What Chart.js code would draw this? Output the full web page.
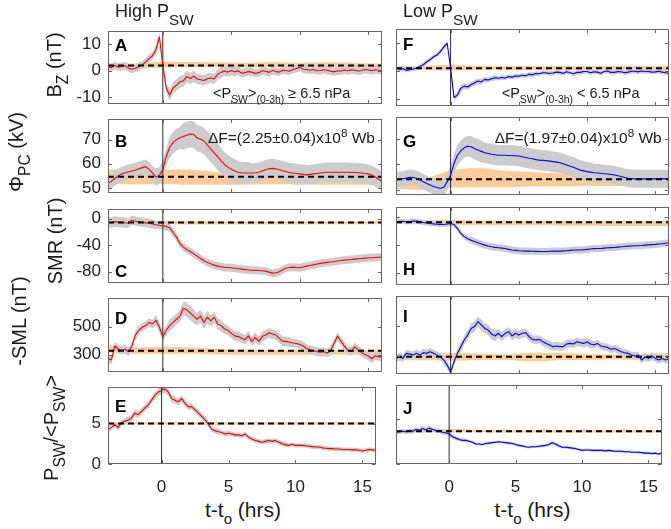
<!DOCTYPE html>
<html><head><meta charset="utf-8">
<script src="https://cdn.jsdelivr.net/npm/chart.js@4.4.1/dist/chart.umd.min.js"></script>
<style>
html,body{margin:0;padding:0;background:#fff;overflow:hidden}
#wrap{position:relative;width:671px;height:529px;background:#fff;font-family:"Liberation Sans",Arial,Helvetica,sans-serif;color:#1a1a1a}
canvas{position:absolute}
.t{position:absolute;white-space:nowrap;z-index:5}
.sub{font-size:0.72em;position:relative;top:0.45em}
.sup{font-size:0.75em;position:relative;top:-0.55em}
.rot{transform:translate(-50%,-50%) rotate(-90deg);font-size:20px;line-height:20px}
.rot .sub{font-size:0.78em}
.lt{font-weight:bold;font-size:17px;line-height:17px;color:#000}
.an{font-size:14.5px;line-height:14px}
.df{font-size:15.5px;line-height:15px}
.xt{font-size:21px;line-height:21px;transform:translateX(-50%)}
.ti{font-size:18px;line-height:18px}
.ti .sub{font-size:0.85em;top:0.5em}
</style></head><body><div id="wrap">
<div class="t ti" style="left:115px;top:2px">High P<span class="sub">SW</span></div>
<div class="t ti" style="left:403px;top:2px">Low P<span class="sub">SW</span></div>
<div class="t rot" style="left:54.5px;top:65px">B<span class="sub">Z</span> (nT)</div>
<div class="t rot" style="left:17px;top:152px">Φ<span class="sub">PC</span> (kV)</div>
<div class="t rot" style="left:54.5px;top:241px">SMR (nT)</div>
<div class="t rot" style="left:19px;top:321px">-SML (nT)</div>
<div class="t rot" style="left:52px;top:428px">P<span class="sub">SW</span>/&lt;P<span class="sub">SW</span>&gt;</div>
<div class="t lt" style="left:115px;top:37px">A</div>
<div class="t lt" style="left:115px;top:133px">B</div>
<div class="t lt" style="left:115px;top:263px">C</div>
<div class="t lt" style="left:115px;top:309.5px">D</div>
<div class="t lt" style="left:115px;top:398px">E</div>
<div class="t lt" style="left:403px;top:36px">F</div>
<div class="t lt" style="left:403px;top:133px">G</div>
<div class="t lt" style="left:403px;top:261px">H</div>
<div class="t lt" style="left:403px;top:308px">I</div>
<div class="t lt" style="left:403px;top:399.5px">J</div>
<div class="t an" style="left:213px;top:86px">&lt;P<span class="sub">SW</span>&gt;<span class="sub">(0-3h)</span> ≥ 6.5 nPa</div>
<div class="t an" style="left:501.7px;top:86px">&lt;P<span class="sub">SW</span>&gt;<span class="sub">(0-3h)</span> &lt; 6.5 nPa</div>
<div class="t df" style="right:296px;top:130px">ΔF=(2.25±0.04)x10<span class="sup">8</span> Wb</div>
<div class="t df" style="right:9.3px;top:130px">ΔF=(1.97±0.04)x10<span class="sup">8</span> Wb</div>
<div class="t xt" style="left:243px;top:499px">t-t<span class="sub">o</span> (hrs)</div>
<div class="t xt" style="left:532.5px;top:499px">t-t<span class="sub">o</span> (hrs)</div>
</div>
<script>
// ---------------- DATA ----------------
// time grid: -4 h to 16 h, every 0.25 h (81 samples)
const tStart = -4, tStep = 0.25, nSamples = 81;
const xTicks = [0, 5, 10, 15];
const baseX = [-4, -2, 0, 2, 4, 6, 8, 10, 12, 14, 16];   // quiet-time baseline samples

// A: Bz, high Psw
const bzHigh = [1.6,1.2,2.0,1.4, 1.6,1.9,1.0,0.6, 1.0,1.6,2.2,3.4, 4.6,5.7,8.0,12.8,
  2.2,-6.5,-9.2,-6.5, -5.4,-4.2,-3.8,-2.1, -2.9,-2.0,-3.1,-3.4, -3.7,-3.0,-2.7,-3.1,
  -1.3,-0.6,-0.1,-0.5, 0.1,-0.4,0.0,-0.9, -0.7,-0.3,-0.5,-1.0, -0.7,0.0,-0.2,-0.6,
  0.1,-0.3,-0.5,0.2, 0.1,-0.2,0.5,0.9, 1.3,0.6,0.5,0.2, 0.5,0.0,0.1,0.4,
  0.2,-0.2,-0.4,0.0, -0.1,0.3,0.0,0.4, 0.2,-0.1,0.1,0.5, 0.3,0.0,0.4,0.2, 0.1];
// F: Bz, low Psw
const bzLow = [1.0,0.6,0.8,0.3, 0.5,0.7,1.0,1.6, 2.2,3.3,4.0,5.1, 5.7,6.9,8.6,9.9,
  1.0,-9.5,-8.6,-6.2, -5.4,-5.7,-4.8,-4.3, -3.6,-3.9,-3.0,-3.2, -2.8,-2.4,-2.6,-2.3,
  -2.5,-2.0,-2.2,-1.8, -1.9,-1.5,-1.7,-1.2, -1.3,-0.9,-1.0,-0.6, -0.6,-0.9,-0.7,-0.4,
  -0.5,-0.8,-0.3,-0.6, -1.0,-0.5,-0.5,-0.2, -0.2,-0.6,-0.3,-0.4, -0.8,-0.2,0.0,-0.5,
  -0.5,-0.2,-0.3,-0.6, -0.4,-0.1,-0.1,-0.3, 0.0,-0.2,-0.2,-0.4, -0.3,-0.1,-0.4,-0.6, -0.9];
// B: Phi_PC, high Psw
const phiHigh = [51.9,52.8,53.9,55.0, 55.8,56.3,56.7,57.0, 57.4,57.9,58.4,58.8, 57.7,56.2,54.5,55.2,
  57.7,62.9,66.8,68.7, 70.0,70.7,71.3,71.8, 72.3,72.1,70.6,70.2, 69.4,67.8,66.1,64.5,
  62.9,61.2,59.7,58.6, 57.7,57.0,56.5,56.3, 56.2,56.2,56.2,56.3, 56.5,57.0,57.5,57.9,
  58.1,57.9,57.5,57.1, 56.7,56.4,56.2,56.0, 55.8,55.6,55.4,55.6, 55.8,56.0,56.2,56.4,
  56.5,56.5,56.5,56.5, 56.5,56.5,56.5,56.4, 56.4,56.3,56.2,56.0, 55.8,55.3,54.5,53.6, 52.8];
// G: Phi_PC, low Psw
const phiLow = [53.9,54.1,54.3,54.6, 54.9,54.8,54.5,53.9, 53.2,52.5,51.9,51.3, 50.9,50.6,51.0,53.2,
  55.8,60.3,63.5,65.2, 66.4,67.0,66.8,66.1, 65.5,65.0,64.5,64.2, 63.9,63.7,63.5,63.5,
  63.5,63.4,63.4,63.3, 63.2,62.9,62.6,62.3, 62.1,61.8,61.6,61.5, 61.4,61.2,61.0,60.8,
  60.6,60.2,59.7,59.2, 58.8,58.2,57.7,57.4, 57.1,56.9,56.7,56.6, 56.5,56.3,56.2,56.0,
  55.8,55.5,55.2,54.8, 54.5,54.4,54.3,54.3, 54.3,54.3,54.3,54.3, 54.3,54.3,54.3,54.3, 54.3];
// C: SMR, high Psw
const smrHigh = [-5.6,-6.0,-4.7,-5.2, -5.6,-6.4,-7.0,-2.5, -4.0,-4.6,-5.6,-6.5, -7.0,-8.2,-9.4,-10.2,
  -10.8,-11.8,-14.0,-21.0, -28.0,-37.6,-43.0,-46.5, -49.4,-53.0,-56.5,-60.0, -63.5,-66.0,-68.0,-70.0,
  -71.5,-72.5,-73.4,-73.6, -73.9,-74.6,-75.3,-76.0, -76.7,-77.2,-77.6,-77.8, -78.0,-78.5,-79.0,-80.5,
  -82.0,-81.5,-80.0,-77.0, -74.4,-73.5,-73.0,-73.5, -73.9,-72.7,-71.5,-70.5, -69.6,-68.4,-67.3,-66.6,
  -65.9,-65.2,-64.5,-63.8, -63.0,-62.5,-62.0,-61.5, -61.0,-60.5,-60.0,-59.5, -59.0,-58.8,-58.5,-58.2, -58.0];
// H: SMR, low Psw
const smrLow = [-7.0,-6.5,-6.2,-6.8, -7.0,-5.8,-6.0,-7.0, -8.0,-8.6,-9.4,-9.9, -10.4,-10.6,-10.8,-10.0,
  -9.4,-10.8,-16.5,-23.5, -28.0,-31.0,-33.0,-35.0, -36.7,-38.5,-40.0,-41.3, -42.4,-43.2,-43.8,-44.3,
  -44.7,-46.0,-47.0,-47.5, -48.0,-48.3,-48.5,-48.5, -48.6,-48.8,-49.0,-49.0, -49.0,-48.7,-48.5,-48.5,
  -48.5,-48.2,-48.0,-47.5, -47.0,-47.0,-47.0,-46.5, -46.0,-45.5,-45.0,-44.8, -44.7,-44.2,-43.8,-43.5,
  -43.3,-42.8,-42.4,-41.9, -41.4,-41.2,-41.0,-40.8, -40.5,-40.0,-39.7,-39.3, -39.0,-38.5,-38.0,-37.3, -36.7];
// D: -SML, high Psw
const smlHigh = [271,262,361,338, 331,338,320,361, 439,473,495,507, 529,518,545,495,
  428,473,507,529, 552,574,630,619, 597,574,552,574, 529,567,540,567,
  518,507,484,473, 451,433,428,417, 406,433,394,422, 394,428,439,455,
  446,439,417,394, 394,388,383,379, 372,361,343,334, 327,320,316,320,
  311,327,380,430, 395,360,330,322, 355,335,315,300, 290,270,292,285, 280];
// I: -SML, low Psw
const smlLow = [282,293,282,316, 311,304,316,304, 320,316,327,316, 304,293,271,237,
  190,260,316,361, 406,439,484,496, 529,507,484,473, 446,433,451,428,
  451,462,433,451, 439,451,455,428, 410,406,410,394, 383,372,361,366,
  361,361,379,383, 379,394,388,383, 394,379,372,383, 366,361,356,343,
  349,338,327,320, 316,304,298,304, 271,293,282,298, 282,271,282,271, 278];
// E: Psw/<Psw>, high Psw
const psHigh = [4.3,4.5,4.9,4.5, 5.1,5.3,5.4,5.7, 6.3,6.1,6.5,6.9, 7.3,7.9,8.5,8.9,
  9.1,9.3,8.9,8.1, 7.9,7.7,8.1,7.5, 7.1,7.1,6.7,6.3, 5.9,5.5,4.9,4.3,
  4.1,4.0,3.9,3.7, 3.8,3.7,3.6,3.6, 3.5,3.7,3.3,3.1, 2.9,2.8,2.7,2.8,
  2.9,2.8,2.9,2.7, 2.5,2.4,2.3,2.45, 2.3,2.3,2.3,2.25, 2.2,2.15,2.1,2.1,
  2.0,1.95,1.9,1.9, 1.85,1.85,1.8,1.8, 1.8,1.75,1.75,1.7, 1.6,1.7,1.8,1.75, 1.7];
// J: Psw/<Psw>, low Psw
const psLow = [3.5,3.55,3.6,3.55, 3.65,3.6,3.8,3.7, 3.9,3.75,3.95,3.8, 3.7,3.65,3.5,3.45,
  3.3,3.0,2.85,2.7, 2.6,2.6,2.5,2.4, 2.2,2.2,2.15,2.25, 2.3,2.35,2.4,2.45,
  2.4,2.35,2.3,2.25, 2.15,2.05,2.0,1.9, 1.85,1.9,1.9,1.95, 2.0,2.05,2.15,2.35,
  2.2,2.0,1.85,1.85, 1.8,1.75,1.7,1.6, 1.5,1.55,1.55,1.5, 1.5,1.5,1.5,1.45,
  1.5,1.45,1.4,1.4, 1.4,1.35,1.35,1.3, 1.3,1.3,1.25,1.2, 1.2,1.15,1.2,1.1, 1.2];

// uncertainty half-widths (grey bands), one value per hour from -4 to 16
const bzHighErr  = [1.5,1.5,1.5,1.5,1.8,2.2,2.2,2.0,2.0,1.8,1.6,1.5,1.5,1.5,1.5,1.5,1.5,1.5,1.5,1.5,1.5];
const bzLowErr   = [0.8,0.8,0.8,0.8,0.9,1.1,1.0,0.9,0.8,0.8,0.8,0.8,0.8,0.8,0.8,0.8,0.8,0.8,0.8,0.8,0.8];
const phiHighErr = [3,3,3,3,3.5,4.5,5.5,5.5,5.5,5,4.5,4,4,4,4,4,4,4,4,4,4];
const phiLowErr  = [3,3,3,3,3.5,4,4.2,4,4,4,4,4,4,4,3.8,3.5,3.5,3.5,3.5,3.5,3.5];
const smrHighErr = [8,8,7,7,6,6,6,6,6,6,6,6,6,6,6,6,6,6,6,6,6];
const smrLowErr  = [3.5,3.5,3.5,3.5,3.5,4,5,5,5,5,5,5,5,5,5,5,5,5,5,5,5];
const smlHighErr = [30,30,30,30,35,40,50,45,40,35,35,35,35,35,30,30,30,30,30,30,30];
const smlLowErr  = [25,25,25,25,25,30,35,35,30,30,28,28,28,28,28,25,25,25,25,25,25];
const psHighErr  = [0.35,0.35,0.4,0.4,0.45,0.45,0.4,0.4,0.35,0.3,0.3,0.3,0.3,0.3,0.25,0.25,0.25,0.25,0.25,0.25,0.25];
const psLowErr   = [0.25,0.25,0.25,0.25,0.25,0.2,0.15,0.15,0.15,0.15,0.15,0.15,0.2,0.15,0.15,0.15,0.15,0.15,0.15,0.15,0.15];

// quiet-time baseline ranges (orange bands) at baseX
const bzHighBaseHi  = [2.8,2.8,3.4,3.3,3.2,3.0,3.2,3.0,3.2,3.0,2.8];
const bzHighBaseLo  = [1.2,1.0,1.2,1.4,1.3,1.2,1.4,1.2,1.2,1.2,1.2];
const bzLowBaseHi   = [1.8,1.8,2.2,1.8,1.8,1.8,1.8,1.8,1.8,1.8,1.8];
const bzLowBaseLo   = [0.3,0.4,0.2,0.4,0.3,0.4,0.3,0.4,0.4,0.3,0.3];
const phiHighBaseHi = [57.7,57.0,57.5,57.5,56.5,56.0,56.0,56.0,55.8,55.8,55.8];
const phiHighBaseLo = [51.5,51.5,51.5,51.3,51.3,51.3,51.5,51.3,51.3,51.3,51.3];
const phiLowBaseHi  = [54.5,54.5,57.5,58.4,57.5,57.0,56.5,56.5,56.0,56.0,55.5];
const phiLowBaseLo  = [50.3,50.0,50.8,51.0,51.0,51.3,51.3,51.5,51.5,51.3,50.5];
const smrHighBaseHi = [-3.5,-3.5,-3.8,-3.8,-4.0,-4.0,-4.0,-4.0,-4.0,-4.0,-4.0];
const smrHighBaseLo = [-8.5,-8.5,-8.5,-8.8,-8.8,-8.8,-8.8,-8.8,-8.5,-8.5,-8.5];
const smrLowBaseHi  = [-4.5,-4.5,-4.5,-5.0,-5.0,-5.5,-5.5,-6.0,-6.0,-6.0,-6.0];
const smrLowBaseLo  = [-10.0,-10.5,-11.0,-11.5,-12.0,-12.0,-12.5,-12.5,-13.0,-13.0,-13.5];
const smlHighBaseHi = [372,352,355,350,340,335,330,330,330,330,330];
const smlHighBaseLo = [315,305,305,305,300,298,298,298,298,298,298];
const smlLowBaseHi  = [305,310,318,315,310,320,318,312,308,312,318];
const smlLowBaseLo  = [270,270,268,270,272,262,270,272,275,270,272];
const psHighBaseHi  = [5.12,5.12,5.15,5.15,5.15,5.15,5.15,5.15,5.15,5.15,5.15];
const psHighBaseLo  = [4.88,4.88,4.85,4.85,4.85,4.85,4.85,4.85,4.85,4.85,4.85];
const psLowBaseHi   = [3.72,3.72,3.85,3.8,3.75,3.75,3.75,3.75,3.75,3.75,3.72];
const psLowBaseLo   = [3.48,3.48,3.5,3.5,3.48,3.48,3.48,3.48,3.48,3.48,3.48];

// dashed reference levels
const refLevels = {A:2.0, F:1.0, B:54.6, G:54.1, C:-6.0, H:-7.5, D:327, I:293, E:5.0, J:3.6};
// y-axis ranges and tick labels
const bzRange = [-12.5, 15],  bzTicks = [-10, 0, 10];
const phiRange = [48, 78.4],  phiTicks = [50, 60, 70];
const smrRange = [-96.5, 14], smrTicks = [-80, -40, 0];
const smlRange = [177, 702],  smlTicks = [300, 500];
const psHighRange = [0, 9.5], psLowRange = [0, 8.7], psTicks = [0, 5];

// ---------------- DRAWING ----------------
const FONT = '"Liberation Sans", Arial, Helvetica, sans-serif';
Chart.defaults.font.family = FONT;
const T = []; for (let i = 0; i < nSamples; i++) T.push(tStart + i * tStep);

const framePlugin = {
  id: 'frame',
  afterDraw(chart, args, opts) {
    const {ctx, chartArea: a, scales} = chart;
    const x = scales.x, y = scales.y;
    const l = Math.round(a.left) + 0.5, r = Math.round(a.right) - 0.5;
    const t = Math.round(a.top) + 0.5, b = Math.round(a.bottom) - 0.5;
    ctx.save();
    ctx.strokeStyle = '#666666'; ctx.lineWidth = 1;
    ctx.strokeRect(l, t, r - l, b - t);
    const L = 3.5;
    ctx.beginPath();
    opts.xt.forEach(v => {
      const px = Math.round(x.getPixelForValue(v)) + 0.5;
      ctx.moveTo(px, t); ctx.lineTo(px, t + L);
      ctx.moveTo(px, b); ctx.lineTo(px, b - L);
    });
    opts.yt.forEach(v => {
      const py = Math.round(y.getPixelForValue(v)) + 0.5;
      ctx.moveTo(l, py); ctx.lineTo(l + L, py);
      ctx.moveTo(r, py); ctx.lineTo(r - L, py);
    });
    ctx.stroke();
    ctx.restore();
  }
};

const panels = [
  {k:'A', col:0, row:0, y:bzHigh,  err:bzHighErr,  hi:bzHighBaseHi,  lo:bzHighBaseLo,  rg:bzRange,  yt:bzTicks,  c:'#ff0000'},
  {k:'B', col:0, row:1, y:phiHigh, err:phiHighErr, hi:phiHighBaseHi, lo:phiHighBaseLo, rg:phiRange, yt:phiTicks, c:'#ff0000'},
  {k:'C', col:0, row:2, y:smrHigh, err:smrHighErr, hi:smrHighBaseHi, lo:smrHighBaseLo, rg:smrRange, yt:smrTicks, c:'#ff0000'},
  {k:'D', col:0, row:3, y:smlHigh, err:smlHighErr, hi:smlHighBaseHi, lo:smlHighBaseLo, rg:smlRange, yt:smlTicks, c:'#ff0000'},
  {k:'E', col:0, row:4, y:psHigh,  err:psHighErr,  hi:psHighBaseHi,  lo:psHighBaseLo,  rg:psHighRange, yt:psTicks, c:'#ff0000'},
  {k:'F', col:1, row:0, y:bzLow,   err:bzLowErr,   hi:bzLowBaseHi,   lo:bzLowBaseLo,   rg:bzRange,  yt:bzTicks,  c:'#0000ff'},
  {k:'G', col:1, row:1, y:phiLow,  err:phiLowErr,  hi:phiLowBaseHi,  lo:phiLowBaseLo,  rg:phiRange, yt:phiTicks, c:'#0000ff'},
  {k:'H', col:1, row:2, y:smrLow,  err:smrLowErr,  hi:smrLowBaseHi,  lo:smrLowBaseLo,  rg:smrRange, yt:smrTicks, c:'#0000ff'},
  {k:'I', col:1, row:3, y:smlLow,  err:smlLowErr,  hi:smlLowBaseHi,  lo:smlLowBaseLo,  rg:smlRange, yt:smlTicks, c:'#0000ff'},
  {k:'J', col:1, row:4, y:psLow,   err:psLowErr,   hi:psLowBaseHi,   lo:psLowBaseLo,   rg:psLowRange, yt:psTicks, c:'#0000ff'}
];

// layout geometry
const rowTop = [29, 117, 207, 296, 385];
const rowH = [77, 78, 78, 78, 79];
const colLeft = [108, 396];
const colW = [274, 273];
const wrap = document.getElementById('wrap');

panels.forEach(p => {
  const left = p.col === 0, bottom = p.row === 4;
  const padL = 3, padR = left ? 3 : 2, padT = 15, padB = bottom ? 2 : 15;
  const yW = left ? 50 : 0, xH = bottom ? 32 : 0;
  const cw = padL + yW + colW[p.col] + padR;
  const ch = padT + rowH[p.row] + xH + padB;
  const cv = document.createElement('canvas');
  cv.width = cw; cv.height = ch;
  cv.style.left = (colLeft[p.col] - padL - yW) + 'px';
  cv.style.top = (rowTop[p.row] - padT) + 'px';
  wrap.insertBefore(cv, wrap.firstChild);

  const line = p.y.map((v, i) => ({x: T[i], y: v}));
  const gUp = p.y.map((v, i) => ({x: T[i], y: v + p.err[Math.round(T[i]) + 4]}));
  const gLo = p.y.map((v, i) => ({x: T[i], y: v - p.err[Math.round(T[i]) + 4]}));
  const oUp = baseX.map((t, i) => ({x: t, y: p.hi[i]}));
  const oLo = baseX.map((t, i) => ({x: t, y: p.lo[i]}));
  const ref = refLevels[p.k];
  const common = {pointRadius: 0, clip: 0};

  const xScale = {
    type: 'linear', min: -4, max: 16, display: bottom,
    afterBuildTicks: s => { s.ticks = xTicks.map(v => ({value: v})); },
    grid: {display: false, drawTicks: false}, border: {display: false},
    ticks: {padding: 13, font: {family: FONT, size: 17}, color: '#222', maxRotation: 0, autoSkip: false}
  };
  if (bottom) xScale.afterFit = s => { s.height = xH; };
  const yScale = {
    type: 'linear', min: p.rg[0], max: p.rg[1], display: left,
    afterBuildTicks: s => { s.ticks = p.yt.map(v => ({value: v})); },
    grid: {display: false, drawTicks: false}, border: {display: false},
    ticks: {padding: 7, font: {family: FONT, size: 17}, color: '#222', autoSkip: false}
  };
  if (left) yScale.afterFit = s => { s.width = yW; };

  new Chart(cv, {
    type: 'line',
    data: {datasets: [
      Object.assign({data: [{x: -4, y: ref}, {x: 16, y: ref}], borderColor: '#000', borderWidth: 2, borderDash: [6, 4], order: 0, fill: false}, common),
      Object.assign({data: line, borderColor: p.c, borderWidth: 1.1, order: 1, fill: false, tension: 0, borderJoinStyle: 'round'}, common),
      Object.assign({data: [{x: 0, y: p.rg[0]}, {x: 0, y: p.rg[1]}], borderColor: '#2b2b2b', borderWidth: 1, order: 2, fill: false}, common),
      Object.assign({data: gUp, borderColor: 'rgba(0,0,0,0)', borderWidth: 0, backgroundColor: '#cccccc', fill: '+1', order: 3}, common),
      Object.assign({data: gLo, borderColor: 'rgba(0,0,0,0)', borderWidth: 0, fill: false, order: 3}, common),
      Object.assign({data: oUp, borderColor: 'rgba(0,0,0,0)', borderWidth: 0, backgroundColor: 'rgb(253,204,153)', fill: '+1', order: 4, tension: 0.4}, common),
      Object.assign({data: oLo, borderColor: 'rgba(0,0,0,0)', borderWidth: 0, fill: false, order: 4, tension: 0.4}, common)
    ]},
    options: {
      responsive: false, animation: false, events: [],
      layout: {padding: {left: padL, right: padR, top: padT, bottom: padB}},
      plugins: {legend: {display: false}, tooltip: {enabled: false}, frame: {xt: xTicks, yt: p.yt}},
      scales: {x: xScale, y: yScale}
    },
    plugins: [framePlugin]
  });
});
</script>
</body></html>
